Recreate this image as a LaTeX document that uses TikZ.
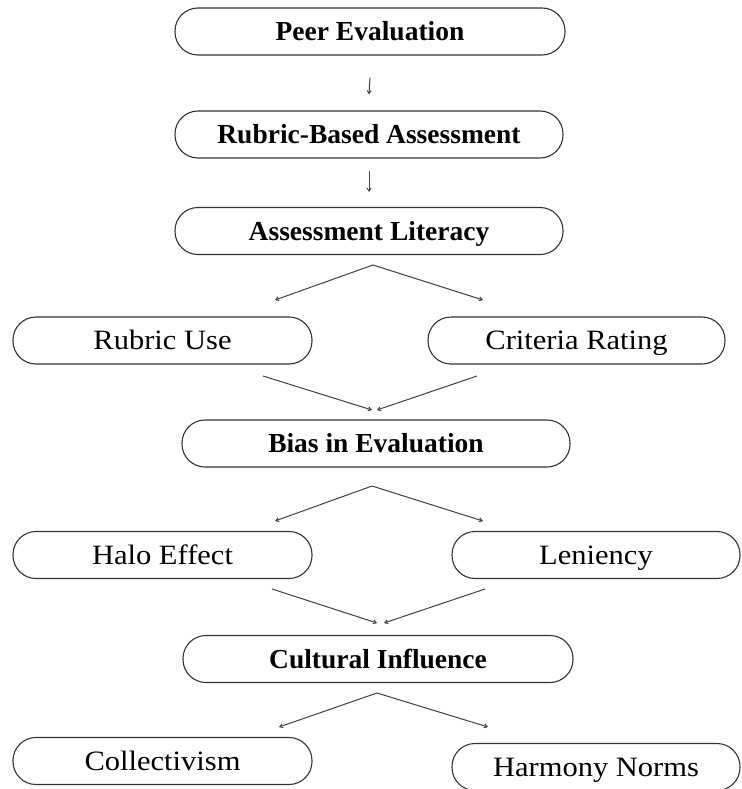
\documentclass[tikz,border=0pt]{standalone}
\usepackage{fontspec}
\setmainfont{Liberation Serif}
\newfontfamily\regfont[FakeStretch=1.09]{Liberation Serif}
\usetikzlibrary{arrows.meta,calc}
\begin{document}
\begin{tikzpicture}[x=1pt,y=-1pt,
 box/.style={draw=black!80, line width=1.1pt, rounded corners=23pt, minimum height=47pt, inner sep=0pt, text height=20pt, text depth=2pt, anchor=center},
 main/.style={box, font=\fontsize{27.5}{30}\selectfont\bfseries},
 sub/.style={box, font=\regfont\fontsize{28}{30}\selectfont},
 link/.style={draw=black!75, line width=1pt, -{Straight Barb[length=3pt,width=4pt]}},
]
\useasboundingbox (0,0) rectangle (741,789);
% main nodes
\node[main, minimum width=390pt] (pe)  at (370,31.5) {Peer Evaluation};
\node[main, minimum width=388pt] (rba) at (369,134.5) {Rubric-Based Assessment};
\node[main, minimum width=388pt] (al)  at (369,231) {Assessment Literacy};
\node[main, minimum width=388pt] (bie) at (376,443.5) {Bias in Evaluation};
\node[main, minimum width=390pt] (ci)  at (378,659) {Cultural Influence};
% sub nodes
\node[sub, minimum width=299pt] (ru)  at (162.5,340.5) {Rubric Use};
\node[sub, minimum width=297pt] (cr)  at (576.5,340.5) {Criteria Rating};
\node[sub, minimum width=299pt] (he)  at (162.5,555) {Halo Effect};
\node[sub, minimum width=288pt] (len) at (596,555) {Leniency};
\node[sub, minimum width=299pt] (col) at (162.5,761) {Collectivism};
\node[sub, minimum width=288pt] (hn)  at (596,767) {Harmony Norms};
% vertical arrows
\draw[link] ($(pe.south)+(0,22)$) -- ($(rba.north)+(0,-16)$);
\draw[link] ($(rba.south)+(0,12)$) -- ($(al.north)+(0,-15)$);
% fan out from Assessment Literacy
\coordinate (alx) at (373,265);
\coordinate (ruin) at (275,300);
\coordinate (crin) at (483,300);
\draw[link] (alx) -- (ruin);
\draw[link] (alx) -- (crin);
% fan in to Bias
\coordinate (ruout) at (263,376);
\coordinate (crout) at (477,376);
\coordinate (biel) at (372,410);
\coordinate (bier) at (377,410);
\draw[link] (ruout) -- (biel);
\draw[link] (crout) -- (bier);
% fan out from Bias
\coordinate (biex) at (372,486);
\coordinate (hein) at (275,521);
\coordinate (lenin) at (483,521);
\draw[link] (biex) -- (hein);
\draw[link] (biex) -- (lenin);
% fan in to Cultural Influence
\coordinate (heout) at (272,589);
\coordinate (lenout) at (485,589);
\coordinate (cil) at (377,623);
\coordinate (cir) at (384,623);
\draw[link] (heout) -- (cil);
\draw[link] (lenout) -- (cir);
% fan out from Cultural Influence
\coordinate (cix) at (377,693);
\coordinate (colin) at (279,727);
\coordinate (hnin) at (488,727);
\draw[link] (cix) -- (colin);
\draw[link] (cix) -- (hnin);
\end{tikzpicture}
\end{document}
